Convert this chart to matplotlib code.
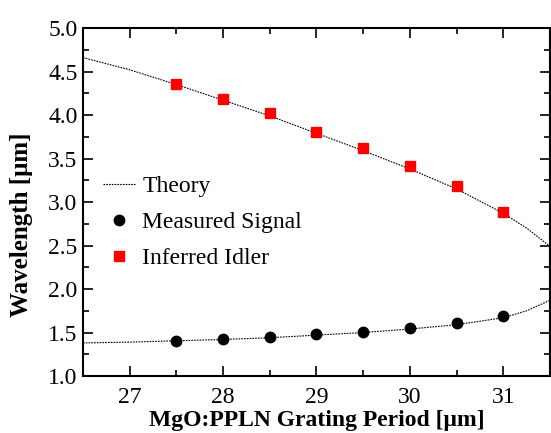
import matplotlib.pyplot as plt
import numpy as np
from matplotlib.ticker import MultipleLocator

# grating periods (um) where signal was measured
period = [27.5, 28.0, 28.5, 29.0, 29.5, 30.0, 30.5, 31.0]
signal = [1.40, 1.425, 1.445, 1.48, 1.51, 1.55, 1.61, 1.69]
idler = [4.36, 4.18, 4.02, 3.81, 3.62, 3.41, 3.18, 2.88]

# theory curves
theory_period = [26.5, 27.0, 27.5, 28.0, 28.5, 29.0, 29.5, 30.0, 30.5, 31.0, 31.25, 31.5]
theory_signal = [1.38, 1.39, 1.405, 1.42, 1.44, 1.47, 1.50, 1.54, 1.59, 1.67, 1.75, 1.87]
theory_idler = [4.66, 4.52, 4.35, 4.17, 3.99, 3.79, 3.59, 3.38, 3.15, 2.87, 2.70, 2.49]

plt.rcParams['font.family'] = ['Liberation Serif', 'DejaVu Serif']

fig = plt.figure(figsize=(5.51, 4.33), dpi=100)
ax = fig.add_axes([0.1506, 0.1316, 0.8476, 0.8037])

ax.plot(theory_period, theory_idler, color='black', linestyle=(0, (1.5, 1)), linewidth=0.8, label='Theory')
ax.plot(theory_period, theory_signal, color='black', linestyle=(0, (1.5, 1)), linewidth=0.8)
ax.plot(period, signal, 'o', color='black', markersize=7.5, linestyle='none', label='Measured Signal')
ax.plot(period, idler, 's', color='#ff0000', markersize=6.5, linestyle='none', label='Inferred Idler')

ax.set_xlim(26.5, 31.5)
ax.set_ylim(1.0, 5.0)
ax.xaxis.set_major_locator(MultipleLocator(1))
ax.xaxis.set_minor_locator(MultipleLocator(0.5))
ax.yaxis.set_minor_locator(MultipleLocator(0.25))
ax.set_yticks(np.arange(1.0, 5.01, 0.5))
ax.set_yticklabels([f'{v:.1f}' for v in np.arange(1.0, 5.01, 0.5)])
ax.tick_params(which='both', direction='in', top=True, right=True, labelsize=17, width=1.2)
ax.tick_params(which='major', length=7, pad=4)
ax.tick_params(which='minor', length=4)
ax.tick_params(axis='x', which='major', pad=8)
for s in ax.spines.values():
    s.set_linewidth(1.5)

ax.set_xlabel('MgO:PPLN Grating Period [μm]', fontsize=17, fontweight='bold', labelpad=1)
ax.set_ylabel('Wavelength [μm]', fontsize=18, fontweight='bold')
ax.yaxis.set_label_coords(-0.107, 0.434)

ax.legend(loc='upper left', bbox_to_anchor=(0.043, 0.575), frameon=False, fontsize=17,
          borderpad=0, borderaxespad=0,
          handlelength=1.36, handletextpad=0.3, labelspacing=0.6)

fig.savefig('out.png', dpi=100)
